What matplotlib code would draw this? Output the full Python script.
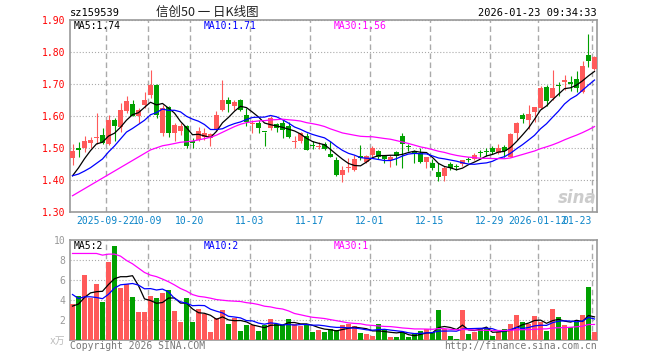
import matplotlib
matplotlib.use('Agg')
import matplotlib.pyplot as plt
import numpy as np

plt.rcParams['lines.scale_dashes'] = False
plt.rcParams['font.family'] = ['DejaVu Sans Mono', 'Noto Sans CJK SC']

W, H = 660, 360
RED = '#ff5a5a'
GREEN = '#00a000'

# daily candles 2025-09-12 .. 2026-01-23
opens = [1.468, 1.502, 1.501, 1.515, 1.533, 1.541, 1.514, 1.589, 1.566, 1.615,
         1.639, 1.602, 1.635, 1.667, 1.698, 1.547, 1.630, 1.547, 1.554, 1.570,
         1.522, 1.526, 1.534, 1.531, 1.557, 1.620, 1.649, 1.633, 1.649, 1.604,
         1.576, 1.580, 1.550, 1.563, 1.576, 1.580, 1.570, 1.519, 1.521, 1.537,
         1.508, 1.505, 1.513, 1.482, 1.464, 1.417, 1.438, 1.432, 1.476, 1.458,
         1.479, 1.490, 1.476, 1.462, 1.488, 1.537, 1.504, 1.487, 1.484, 1.456,
         1.455, 1.427, 1.412, 1.451, 1.441, 1.451, 1.464, 1.466, 1.485, 1.490,
         1.502, 1.484, 1.505, 1.474, 1.547, 1.604, 1.589, 1.612, 1.625, 1.691,
         1.656, 1.694, 1.705, 1.708, 1.716, 1.674, 1.792, 1.747]
highs = [1.514, 1.519, 1.539, 1.536, 1.610, 1.563, 1.604, 1.594, 1.641, 1.662,
         1.651, 1.625, 1.674, 1.745, 1.700, 1.635, 1.632, 1.578, 1.578, 1.572,
         1.531, 1.565, 1.563, 1.547, 1.615, 1.714, 1.659, 1.651, 1.653, 1.625,
         1.589, 1.589, 1.552, 1.599, 1.580, 1.589, 1.583, 1.537, 1.552, 1.547,
         1.524, 1.518, 1.518, 1.521, 1.474, 1.443, 1.469, 1.479, 1.510, 1.479,
         1.507, 1.495, 1.479, 1.479, 1.490, 1.547, 1.514, 1.495, 1.500, 1.474,
         1.466, 1.453, 1.443, 1.458, 1.451, 1.464, 1.474, 1.484, 1.495, 1.502,
         1.507, 1.514, 1.510, 1.547, 1.583, 1.609, 1.635, 1.630, 1.693, 1.698,
         1.743, 1.705, 1.729, 1.724, 1.740, 1.771, 1.857, 1.787]
lows = [1.448, 1.474, 1.488, 1.500, 1.514, 1.513, 1.510, 1.521, 1.550, 1.609,
        1.599, 1.578, 1.625, 1.656, 1.594, 1.539, 1.536, 1.521, 1.542, 1.502,
        1.502, 1.521, 1.526, 1.507, 1.554, 1.615, 1.612, 1.620, 1.615, 1.568,
        1.547, 1.547, 1.507, 1.557, 1.552, 1.531, 1.531, 1.502, 1.516, 1.493,
        1.497, 1.497, 1.495, 1.473, 1.412, 1.396, 1.427, 1.430, 1.464, 1.455,
        1.474, 1.466, 1.453, 1.440, 1.448, 1.438, 1.490, 1.453, 1.455, 1.438,
        1.432, 1.399, 1.399, 1.432, 1.432, 1.443, 1.458, 1.464, 1.471, 1.476,
        1.482, 1.482, 1.474, 1.472, 1.526, 1.578, 1.559, 1.583, 1.622, 1.632,
        1.651, 1.662, 1.682, 1.677, 1.674, 1.672, 1.753, 1.745]
closes = [1.490, 1.493, 1.523, 1.526, 1.535, 1.516, 1.589, 1.568, 1.618, 1.646,
          1.602, 1.620, 1.651, 1.698, 1.604, 1.625, 1.547, 1.573, 1.568, 1.507,
          1.515, 1.554, 1.547, 1.543, 1.604, 1.649, 1.638, 1.643, 1.620, 1.583,
          1.578, 1.563, 1.549, 1.594, 1.563, 1.557, 1.534, 1.521, 1.547, 1.495,
          1.507, 1.507, 1.498, 1.474, 1.417, 1.432, 1.441, 1.466, 1.469, 1.476,
          1.500, 1.474, 1.466, 1.474, 1.476, 1.514, 1.503, 1.486, 1.458, 1.471,
          1.438, 1.409, 1.438, 1.438, 1.440, 1.464, 1.463, 1.479, 1.484, 1.489,
          1.488, 1.500, 1.490, 1.545, 1.580, 1.592, 1.607, 1.627, 1.688, 1.646,
          1.688, 1.693, 1.714, 1.701, 1.688, 1.755, 1.771, 1.783]
vols = [3.6, 4.4, 6.5, 4.2, 5.6, 3.8, 7.8, 9.4, 5.2, 5.6,
        4.3, 2.8, 2.8, 4.4, 4.2, 4.7, 5.0, 2.9, 1.8, 4.2,
        1.8, 3.1, 2.6, 0.8, 2.2, 3.0, 1.6, 2.2, 0.9, 1.5,
        1.5, 0.9, 1.5, 2.1, 1.6, 1.5, 2.1, 1.6, 1.4, 1.6,
        0.8, 1.0, 0.8, 1.1, 1.0, 1.5, 1.6, 1.4, 0.7, 0.6,
        0.4, 1.6, 1.1, 0.3, 0.3, 0.8, 0.3, 0.6, 0.9, 1.1,
        0.8, 3.0, 1.1, 0.4, 0.1, 3.0, 0.6, 0.8, 1.1, 1.1,
        0.4, 0.8, 1.1, 1.6, 2.5, 1.8, 1.6, 2.4, 1.8, 0.9,
        3.1, 2.3, 1.5, 1.3, 1.8, 2.5, 5.3, 0.8]

# earlier sessions (not drawn), only feed the moving averages
pre_closes = [1.163, 1.193, 1.196, 1.205, 1.186, 1.259, 1.238, 1.288, 1.316, 1.272,
              1.290, 1.321, 1.368, 1.410, 1.430, 1.450, 1.460, 1.450, 1.460, 1.455,
              1.440, 1.430, 1.420, 1.400, 1.380, 1.370, 1.380, 1.400, 1.430]
pre_vols = [4.4, 6.5, 4.2, 5.6, 8.8, 4.8, 9.4, 11.2, 18.6, 14.3,
            15.8, 15.8, 12.4, 8.7, 12.0, 13.0, 12.5, 12.5, 12.0, 12.2,
            8.4, 4.8, 4.2, 6.3, 5.0, 3.4, 3.2, 1.9, 5.0]

tick_idx = [6, 13, 20, 30, 40, 50, 60, 70, 78, 87]
tick_labels = ['2025-09-22', '10-09', '10-20', '11-03', '11-17',
               '12-01', '12-15', '12-29', '2026-01-12', '01-23']
price_ticks = [1.30, 1.40, 1.50, 1.60, 1.70, 1.80, 1.90]
vol_ticks = [2, 4, 6, 8, 10]
ma_price_txt = ['1.74', '1.71', '1.56']
ma_vol_txt = ['2', '2', '1']

n = len(closes)
x = np.arange(n)
o, hi, lo, c = map(np.array, (opens, highs, lows, closes))
v = np.array(vols)
cols = np.where(c >= o, RED, GREEN)


def ma(a, k):
    s = np.convolve(a, np.ones(k) / k, mode='valid')
    return s[-n:]


def box(x0, y0, x1, y1):
    return [x0 / W, 1 - y1 / H, (x1 - x0) / W, (y1 - y0) / H]


fig = plt.figure(figsize=(W / 100, H / 100), dpi=100)
ax = fig.add_axes(box(70, 20, 597, 212.3))
axv = fig.add_axes(box(70, 240.3, 597, 340.3))

xl = (-2.5 / 6, (597 - 72.5) / 6)
grid_x = np.array(tick_idx) - 0.42

for a in (ax, axv):
    a.set_xlim(*xl)
    for s in a.spines.values():
        s.set_color('#999999')
        s.set_linewidth(1.2)
    a.set_xticks(grid_x)
    a.grid(axis='x', color='#aaaaaa', lw=1, linestyle=(0, (4, 2.5)))
    a.grid(axis='y', color='#aaaaaa', lw=0.8, linestyle=(0, (0.8, 1.4)))
    a.tick_params(length=0)
    a.set_axisbelow(True)

# price panel
ax.set_ylim(1.30, 1.90)
ax.set_yticks(price_ticks)
ax.set_yticklabels(['%.2f' % p for p in price_ticks])
ax.tick_params(axis='y', labelcolor='#ff0000', labelsize=7, pad=3.5)
ax.set_xticklabels(tick_labels)
ax.tick_params(axis='x', labelcolor='#0a84c8', labelsize=7, pad=3)
ax.get_xticklabels()[-1].set_ha('right')
ax.get_xticklabels()[-1].set_x(grid_x[-1] + 0.3)

ax.vlines(x, lo, hi, colors=cols, lw=0.8, zorder=3)
ax.bar(x, np.maximum(np.abs(c - o), 0.0032), bottom=np.minimum(o, c),
       width=5 / 6, color=cols, lw=0, zorder=3)

allc = np.array(pre_closes + closes)
ax.plot(x, ma(allc, 5), color='black', lw=0.9, zorder=4)
ax.plot(x, ma(allc, 10), color='#0000ff', lw=0.9, zorder=4)
ax.plot(x, ma(allc, 30), color='#ff00ff', lw=0.9, zorder=4)

# volume panel
axv.set_ylim(0, 10)
axv.set_yticks(vol_ticks)
axv.set_yticklabels([str(t) for t in vol_ticks])
axv.tick_params(axis='y', labelcolor='#999999', labelsize=7, pad=3.5)
axv.set_xticklabels([])
axv.bar(x, v, width=5 / 6, color=cols, lw=0, zorder=3)
allv = np.array(pre_vols + vols)
axv.plot(x, ma(allv, 5), color='black', lw=0.9, zorder=4)
axv.plot(x, ma(allv, 10), color='#0000ff', lw=0.9, zorder=4)
axv.plot(x, ma(allv, 30), color='#ff00ff', lw=0.9, zorder=4)


def ftext(px, py, s, **kw):
    kw.setdefault('va', 'center')
    kw.setdefault('size', 7)
    fig.text(px / W, 1 - py / H, s, **kw)


ftext(70, 12.5, 'sz159539', color='black', size=7.5)
ftext(207, 12.5, '信创50 一 日K线图', ha='center', color='#222222', size=9,
      family=['Noto Sans CJK SC'])
ftext(597, 12.5, '2026-01-23 09:34:33', ha='right', color='black', size=7.5)

ftext(74, 26, 'MA5:' + ma_price_txt[0], color='black')
ftext(204, 26, 'MA10:' + ma_price_txt[1], color='#0000ff')
ftext(334, 26, 'MA30:' + ma_price_txt[2], color='#ff00ff')

ftext(74, 246, 'MA5:' + ma_vol_txt[0], color='black')
ftext(204, 246, 'MA10:' + ma_vol_txt[1], color='#0000ff')
ftext(334, 246, 'MA30:' + ma_vol_txt[2], color='#ff00ff')

ftext(65, 341, 'x万', ha='right', color='#bbbbbb', size=7)
ftext(70, 346, 'Copyright 2026 SINA.COM', color='#777777')
ftext(597, 346, 'http://finance.sina.com.cn', ha='right', color='#777777')

ftext(597, 198, 'sina', ha='right', color='#cccccc', size=12,
      weight='bold', style='italic', family=['DejaVu Sans'])

fig.savefig('out.png', dpi=100)
